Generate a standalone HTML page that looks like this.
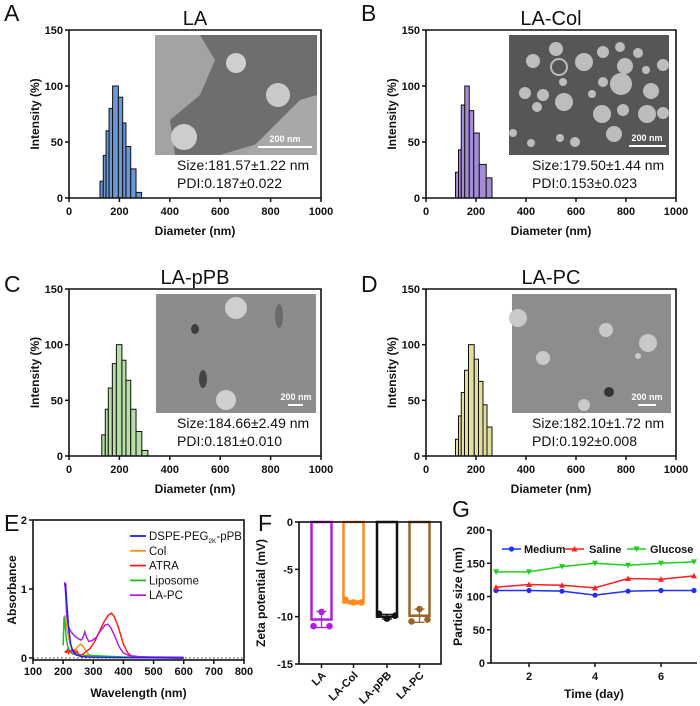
<!DOCTYPE html>
<html><head><meta charset="utf-8"><style>
html,body{margin:0;padding:0;background:#fff}
svg{display:block;font-family:"Liberation Sans",Arial,sans-serif}
.tk{font-size:11px;font-weight:bold;fill:#111}
.at{font-size:12px;font-weight:bold;fill:#111}
</style></head><body>
<svg id="fig" width="700" height="706" viewBox="0 0 700 706" xmlns="http://www.w3.org/2000/svg">
<g>
  <g>
    <rect x="155" y="35" width="162" height="120" fill="#a3a3a3"/>
    <path d="M200,35 L317,35 L317,118 L270,140 L220,155 L175,155 L170,120 L200,95 L215,60 Z" fill="#6e6e6e"/>
    <path d="M300,100 L317,95 L317,155 L245,155 Z" fill="#a8a8a8"/>
    <circle cx="236" cy="63" r="10" fill="#cfcfcf"/><circle cx="278" cy="95" r="12" fill="#cacaca"/><circle cx="184" cy="137" r="13" fill="#cdcdcd"/>
    <line x1="258" y1="147" x2="312" y2="147" stroke="#fff" stroke-width="2"/>
    <text x="285" y="142" font-size="9" font-weight="bold" fill="#fff" text-anchor="middle">200 nm</text>
  </g>
  <g>
    <rect x="509" y="35" width="160" height="120" fill="#565656"/>
    <g fill="#bdbdbd">
    <circle cx="556" cy="49" r="7"/><circle cx="533" cy="61" r="7"/><circle cx="559" cy="67" r="8" fill="none" stroke="#bbb" stroke-width="2"/><circle cx="584" cy="62" r="9"/><circle cx="603" cy="52" r="6"/><circle cx="620" cy="47" r="5"/><circle cx="638" cy="53" r="5"/><circle cx="625" cy="66" r="8"/><circle cx="646" cy="70" r="4"/><circle cx="663" cy="65" r="6"/><circle cx="563" cy="82" r="4"/><circle cx="603" cy="82" r="5"/><circle cx="621" cy="84" r="11"/><circle cx="651" cy="91" r="8"/><circle cx="525" cy="93" r="6"/><circle cx="543" cy="95" r="6"/><circle cx="564" cy="102" r="9"/><circle cx="537" cy="107" r="5"/><circle cx="592" cy="94" r="4"/><circle cx="602" cy="114" r="9"/><circle cx="623" cy="110" r="6"/><circle cx="647" cy="114" r="9"/><circle cx="663" cy="113" r="6"/><circle cx="614" cy="134" r="8"/><circle cx="560" cy="138" r="4"/><circle cx="575" cy="142" r="5"/><circle cx="531" cy="143" r="4"/><circle cx="513" cy="133" r="4"/>
    </g>
    <line x1="629" y1="146" x2="666" y2="146" stroke="#fff" stroke-width="2"/>
    <text x="647" y="141" font-size="9" font-weight="bold" fill="#fff" text-anchor="middle">200 nm</text>
  </g>
  <g>
    <rect x="156" y="294" width="160" height="119" fill="#8c8c8c"/>
    <circle cx="236" cy="308" r="11" fill="#cfcfcf"/><circle cx="226" cy="400" r="10" fill="#d0d0d0"/>
    <ellipse cx="195" cy="329" rx="4" ry="5" fill="#3e3e3e"/><ellipse cx="203" cy="379" rx="4" ry="9" fill="#444"/><ellipse cx="279" cy="316" rx="4" ry="12" fill="#6a6a6a"/>
    <line x1="288" y1="405" x2="303" y2="405" stroke="#fff" stroke-width="2"/>
    <text x="296" y="400" font-size="9" font-weight="bold" fill="#fff" text-anchor="middle">200 nm</text>
  </g>
  <g>
    <rect x="512" y="294" width="159" height="119" fill="#8d8d8d"/>
    <g fill="#c9c9c9"><circle cx="518" cy="318" r="9"/><circle cx="606" cy="330" r="7"/><circle cx="648" cy="343" r="9"/><circle cx="543" cy="358" r="7"/><circle cx="638" cy="356" r="3"/><circle cx="584" cy="405" r="6"/></g>
    <circle cx="609" cy="392" r="5" fill="#333"/>
    <line x1="638" y1="405" x2="656" y2="405" stroke="#fff" stroke-width="2"/>
    <text x="647" y="400" font-size="9" font-weight="bold" fill="#fff" text-anchor="middle">200 nm</text>
  </g>
</g>
<g id="layer"></g>
</svg>
<script>
// ===== Histogram data (A-D) =====
const histEdgesA = [123,136,147,159,173,196,213,226,245,266,288];
const histValsA = [15,38,60,80,100,90,67,46,26,5];
const histEdgesB = [118,130,141,155,173,191,213,241,264];
const histValsB = [23,43,83,100,78,58,30,18];
const histEdgesC = [130,144,156,172,188,210,226,245,266,289,313];
const histValsC = [19,42,61,83,100,86,68,42,22,5];
const histEdgesD = [118,130,141,154,170,193,210,228,244,264];
const histValsD = [15,36,57,77,100,87,67,46,26];
const histTicksX = [0,200,400,600,800,1000];
const histTicksY = [0,50,100,150];
// ===== Panel E data =====
const eTicksX = [100,200,300,400,500,600,700,800];
const eTicksY = [0,1,2];
const eNames = ["DSPE-PEG2K-pPB","Col","ATRA","Liposome","LA-PC"];
const eWlDspe = [205,208,212,218,225,232,240,260,300,400,600];
const eAbDspe = [1.05,1.08,0.8,0.45,0.2,0.1,0.05,0.02,0.01,0.005,0];
const eWlCol = [205,210,215,222,230,240,250,258,266,275,285,300,350,600];
const eAbCol = [0.62,0.5,0.38,0.22,0.12,0.12,0.17,0.2,0.17,0.11,0.05,0.02,0.01,0];
const eWlAtra = [205,210,214,218,222,226,230,234,238,242,246,250,256,264,275,290,305,320,335,350,360,370,385,400,415,430,445,500,600];
const eAbAtra = [0.1,0.08,0.12,0.07,0.11,0.09,0.12,0.08,0.11,0.07,0.1,0.06,0.04,0.05,0.09,0.14,0.24,0.38,0.52,0.62,0.65,0.6,0.42,0.2,0.07,0.02,0.01,0.005,0];
const eWlLipo = [200,203,206,210,215,222,232,245,270,320,400,500,600];
const eAbLipo = [0.18,0.6,0.5,0.3,0.17,0.09,0.06,0.05,0.04,0.03,0.015,0.008,0];
const eWlLapc = [205,208,212,218,226,238,250,260,266,272,278,285,295,310,325,340,348,358,370,385,400,420,450,500,600];
const eAbLapc = [1.1,0.95,0.6,0.45,0.38,0.32,0.28,0.26,0.3,0.38,0.3,0.24,0.25,0.3,0.4,0.48,0.49,0.44,0.33,0.17,0.07,0.035,0.02,0.015,0.01];
// ===== Panel F data =====
const fCats = ["LA","LA-Col","LA-pPB","LA-PC"];
const fMeans = [-10.3,-8.5,-10.0,-9.9];
const fPts1 = [-9.5,-8.5,-10.2,-9.2];
const fPts2 = [-11.0,-8.2,-9.7,-10.5];
const fPts3 = [-11.0,-8.5,-9.9,-10.3];
const fSd = [0.85,0.17,0.25,0.7];
const fTicksY = [0,-5,-10,-15];
// ===== Panel G data =====
const gDays = [1,2,3,4,5,6,7];
const gMedium = [109,109,108,102,108,109,109];
const gSaline = [114,118,117,113,127,126,131];
const gGlucose = [137,137,145,150,147,150,152];
const gTicksX = [2,4,6];
const gTicksY = [0,50,100,150,200];

const NS="http://www.w3.org/2000/svg";
const layer=document.getElementById('layer');
function mk(tag,attrs,parent,txt){const e=document.createElementNS(NS,tag);for(const k in attrs)e.setAttribute(k,attrs[k]);if(txt!==undefined)e.textContent=txt;(parent||layer).appendChild(e);return e;}
function grp(name,parent){const g=mk('g',{},parent);


return g;}

// Histogram panel
function histPanel(key,letter,letterY,title,x0,x1,y0,y1,edges,vals,color,size,pdi){
  const g=grp('panel-'+key);
  const sx=v=>x0+(v/1000)*(x1-x0), sy=v=>y0-(v/150)*(y0-y1);
  const bars=grp('histogram-bars',g);
  for(let i=0;i<vals.length;i++){
    const r=mk('rect',{x:sx(edges[i]),y:sy(vals[i]),width:sx(edges[i+1])-sx(edges[i]),height:y0-sy(vals[i]),fill:color,stroke:'#111','stroke-width':1},bars);
    
    
  }
  mk('path',{d:`M${x0},${y1} L${x0},${y0} L${x1},${y0} L${x1},${y1} L${x0},${y1}`,fill:'none',stroke:'#111','stroke-width':1.6},g);
  histTicksX.forEach(t=>{mk('line',{x1:sx(t),y1:y0,x2:sx(t),y2:y0+4,stroke:'#111','stroke-width':1.5},g);mk('text',{x:sx(t),y:y0+17,class:'tk','text-anchor':'middle'},g,t);});
  histTicksY.forEach(t=>{mk('line',{x1:x0-4,y1:sy(t),x2:x0,y2:sy(t),stroke:'#111','stroke-width':1.5},g);mk('text',{x:x0-6,y:sy(t)+4,class:'tk','text-anchor':'end'},g,t);});
  const xt=mk('text',{x:(x0+x1)/2,y:y0+37,class:'at','text-anchor':'middle'},g,'Diameter (nm)');
  
  const yt=mk('text',{x:0,y:0,class:'at','text-anchor':'middle',transform:`translate(${x0-30},${(y0+y1)/2}) rotate(-90)`},g,'Intensity (%)');
  
  const tt=mk('text',{x:(x0+x1)/2,y:y1-5,'font-size':20,'text-anchor':'middle',fill:'#111'},g,title);
  
  const pl=mk('text',{x:x0-65,y:letterY,'font-size':23,fill:'#111'},g,letter);
  
  const s=mk('text',{x:x1-144,y:y0-28,'font-size':14,fill:'#111'},g,size);
  
  const p=mk('text',{x:x1-144,y:y0-10,'font-size':14,fill:'#111'},g,pdi);
  
}
histPanel('a','A',21,'LA',69,321,198,30,histEdgesA,histValsA,'#6c97d6','Size:181.57±1.22 nm','PDI:0.187±0.022');
histPanel('b','B',21,'LA-Col',426,676,198,30,histEdgesB,histValsB,'#a48bd6','Size:179.50±1.44 nm','PDI:0.153±0.023');
histPanel('c','C',292,'LA-pPB',69,321,456,289,histEdgesC,histValsC,'#b5dfa6','Size:184.66±2.49 nm','PDI:0.181±0.010');
histPanel('d','D',292,'LA-PC',426,676,456,289,histEdgesD,histValsD,'#e2df9e','Size:182.10±1.72 nm','PDI:0.192±0.008');
// ===== Panel E =====
(function(){
  const g=grp('panel-e');
  const x0=33,x1=244,yTop=520,yBot=660;
  const sx=v=>x0+(v-100)/700*(x1-x0), sy=v=>658-(v/2)*(658-520);
  mk('line',{x1:x0,y1:sy(0),x2:x1,y2:sy(0),stroke:'#333','stroke-width':1,'stroke-dasharray':'1.5,2.5'},g);
  const series=[[eWlCol,eAbCol,'#ff8c1a'],[eWlLipo,eAbLipo,'#1fbf1f'],[eWlAtra,eAbAtra,'#ff2020'],[eWlLapc,eAbLapc,'#b020e0'],[eWlDspe,eAbDspe,'#1f1fff']];
  const names=['line-col','line-liposome','line-atra','line-la-pc','line-dspe-peg-ppb'];
  series.forEach((s,i)=>{const pts=s[0].map((w,j)=>sx(w)+','+sy(s[1][j])).join(' ');
    const l=mk('polyline',{points:pts,fill:'none',stroke:s[2],'stroke-width':1.5},g);
    });
  mk('rect',{x:x0,y:yTop,width:x1-x0,height:yBot-yTop,fill:'none',stroke:'#111','stroke-width':1.6},g);
  eTicksX.forEach(t=>{mk('line',{x1:sx(t),y1:yBot,x2:sx(t),y2:yBot+4,stroke:'#111','stroke-width':1.5},g);mk('text',{x:sx(t),y:yBot+15,class:'tk','text-anchor':'middle'},g,t);});
  eTicksY.forEach(t=>{mk('line',{x1:x0-4,y1:sy(t),x2:x0,y2:sy(t),stroke:'#111','stroke-width':1.5},g);mk('text',{x:x0-6,y:sy(t)+4,class:'tk','text-anchor':'end'},g,t);});
  const xt=mk('text',{x:(x0+x1)/2,y:697,class:'at','text-anchor':'middle'},g,'Wavelength (nm)');
  
  const yt=mk('text',{x:0,y:0,class:'at','text-anchor':'middle',transform:`translate(16,${(yTop+yBot)/2}) rotate(-90)`},g,'Absorbance');
  
  const pl=mk('text',{x:4,y:531,'font-size':23,fill:'#111'},g,'E');
  
  const lg=grp('legend',g);
  const lc=['#1f1fff','#ff8c1a','#ff2020','#1fbf1f','#b020e0'];
  eNames.forEach((n,i)=>{const y=536+i*14.8;
    const e=grp('legend-entry',lg);
    mk('line',{x1:130,y1:y,x2:146,y2:y,stroke:lc[i],'stroke-width':1.8},e);
    if(i===0){const t=mk('text',{x:149,y:y+4,'font-size':11.5,fill:'#111'},e);
      mk('tspan',{},t,'DSPE-PEG');mk('tspan',{'font-size':6.5,dy:3},t,'2K');mk('tspan',{dy:-3},t,'-pPB');}
    else mk('text',{x:149,y:y+4,'font-size':11.5,fill:'#111'},e,n);
  });
})();
// ===== Panel F =====
(function(){
  const g=grp('panel-f');
  const x0=299,x1=441,yTop=522,yBot=664;
  const sy=v=>yTop+(-v/15)*(yBot-yTop);
  const cx=[321.5,353.5,387,419.5];
  const cols=['#b01ee0','#ff8a1e','#111111','#9a6424'];
  fCats.forEach((c,i)=>{
    const b=mk('rect',{x:cx[i]-10,y:yTop,width:20,height:sy(fMeans[i])-yTop,fill:'none',stroke:cols[i],'stroke-width':2.5},g);
    
    const ym=sy(fMeans[i]-fSd[i]),yp=sy(fMeans[i]+fSd[i]);
    mk('line',{x1:cx[i],y1:yp,x2:cx[i],y2:ym,stroke:cols[i],'stroke-width':1.3},g);
    mk('line',{x1:cx[i]-5,y1:ym,x2:cx[i]+5,y2:ym,stroke:cols[i],'stroke-width':1.3},g);
    mk('line',{x1:cx[i]-5,y1:yp,x2:cx[i]+5,y2:yp,stroke:cols[i],'stroke-width':1.3},g);
    [[fPts1[i],0],[fPts2[i],-8],[fPts3[i],8]].forEach(p=>{
      const d=mk('circle',{cx:cx[i]+p[1],cy:sy(p[0]),r:3.3,fill:cols[i]},g);
      });
    mk('line',{x1:cx[i],y1:yBot,x2:cx[i],y2:yBot+4,stroke:'#111','stroke-width':1.5},g);
    mk('text',{x:0,y:0,class:'tk','text-anchor':'end',transform:`translate(${cx[i]+5},${yBot+12}) rotate(-45)`},g,c);
  });
  mk('rect',{x:x0,y:yTop,width:x1-x0,height:yBot-yTop,fill:'none',stroke:'#111','stroke-width':1.6},g);
  fTicksY.forEach(t=>{mk('line',{x1:x0-4,y1:sy(t),x2:x0,y2:sy(t),stroke:'#111','stroke-width':1.5},g);mk('text',{x:x0-6,y:sy(t)+4,class:'tk','text-anchor':'end'},g,t);});
  const yt=mk('text',{x:0,y:0,class:'at','text-anchor':'middle',transform:`translate(265,${(yTop+yBot)/2}) rotate(-90)`},g,'Zeta potential (mV)');
  
  const pl=mk('text',{x:258,y:531,'font-size':23,fill:'#111'},g,'F');
  
})();
// ===== Panel G =====
(function(){
  const g=grp('panel-g');
  const x0=491,x1=697,yTop=530,yBot=663;
  const sx=v=>496+(v-1)*33, sy=v=>yBot-(v/200)*(yBot-yTop);
  const series=[[gMedium,'#1f2fff','circle','line-medium'],[gSaline,'#ff1f1f','up','line-saline'],[gGlucose,'#1fcf1f','down','line-glucose']];
  function marker(x,y,t,c,p){
    if(t==='circle')return mk('circle',{cx:x,cy:y,r:2.6,fill:c},p);
    if(t==='up')return mk('path',{d:`M${x},${y-3} L${x+3},${y+2.5} L${x-3},${y+2.5} Z`,fill:c},p);
    return mk('path',{d:`M${x},${y+3} L${x+3},${y-2.5} L${x-3},${y-2.5} Z`,fill:c},p);
  }
  series.forEach(s=>{
    const l=mk('polyline',{points:gDays.map((d,j)=>sx(d)+','+sy(s[0][j])).join(' '),fill:'none',stroke:s[1],'stroke-width':1.5},g);
    
    gDays.forEach((d,j)=>{const m=marker(sx(d),sy(s[0][j]),s[2],s[1],g);
      });
  });
  mk('path',{d:`M${x0},${yTop} L${x0},${yBot} L${x1},${yBot}`,fill:'none',stroke:'#111','stroke-width':1.6},g);
  gTicksX.forEach(t=>{mk('line',{x1:sx(t),y1:yBot,x2:sx(t),y2:yBot+4,stroke:'#111','stroke-width':1.5},g);mk('text',{x:sx(t),y:yBot+17,class:'tk','text-anchor':'middle'},g,t);});
  gTicksY.forEach(t=>{mk('line',{x1:x0-4,y1:sy(t),x2:x0,y2:sy(t),stroke:'#111','stroke-width':1.5},g);mk('text',{x:x0-6,y:sy(t)+4,class:'tk','text-anchor':'end'},g,t);});
  const xt=mk('text',{x:594,y:698,class:'at','text-anchor':'middle'},g,'Time (day)');
  
  const yt=mk('text',{x:0,y:0,class:'at','text-anchor':'middle',transform:`translate(462,${(yTop+yBot)/2}) rotate(-90)`},g,'Particle size (nm)');
  
  const pl=mk('text',{x:452,y:517,'font-size':23,fill:'#111'},g,'G');
  
  const lg=grp('legend',g);
  [['Medium',502,524,'#1f2fff','circle'],['Saline',565,589,'#ff1f1f','up'],['Glucose',627,650,'#1fcf1f','down']].forEach(e=>{
    const en=grp('legend-entry',lg);
    mk('line',{x1:e[1],y1:549,x2:e[1]+19,y2:549,stroke:e[3],'stroke-width':1.5},en);
    marker(e[1]+9.5,549,e[4],e[3],en);
    mk('text',{x:e[2],y:553,class:'tk','font-size':11.5},en,e[0]);
  });
})();
</script>
</body></html>
